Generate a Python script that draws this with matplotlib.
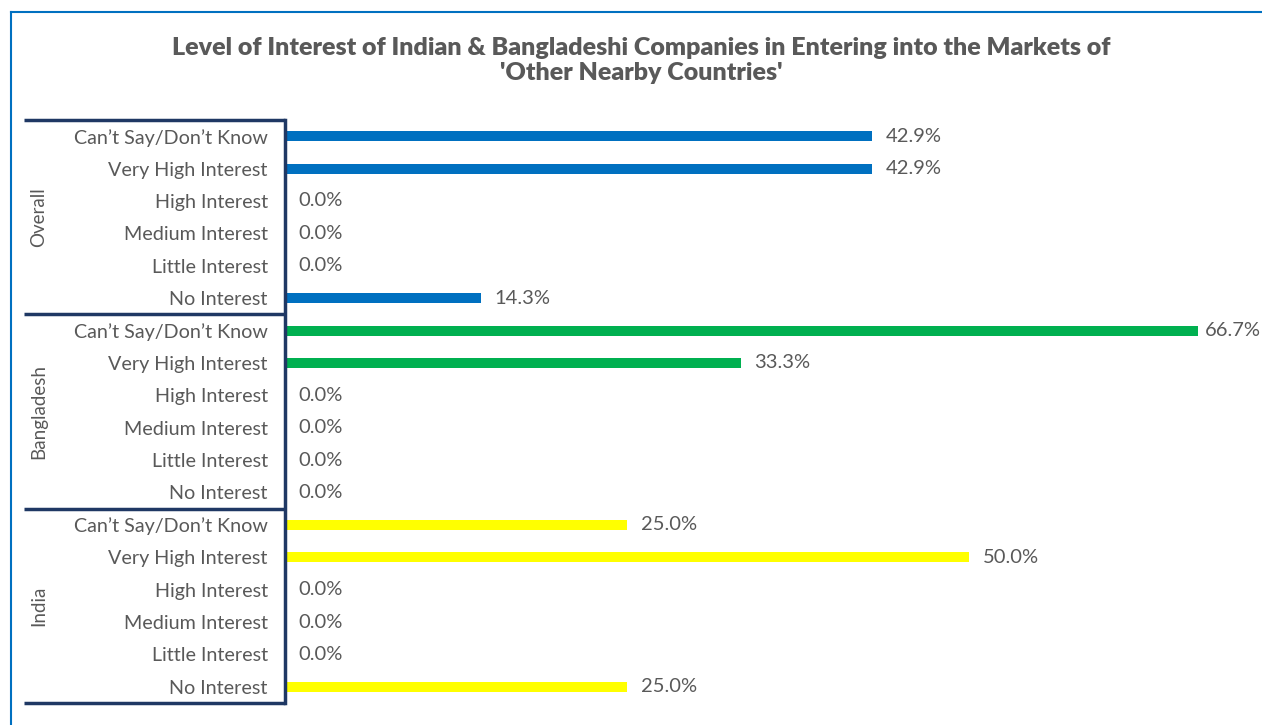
import matplotlib.pyplot as plt
from matplotlib.lines import Line2D

levels = ["Can\u2019t Say/Don\u2019t Know", "Very High Interest", "High Interest",
          "Medium Interest", "Little Interest", "No Interest"]
groups = ["Overall", "Bangladesh", "India"]
overall = [42.9, 42.9, 0.0, 0.0, 0.0, 14.3]
bangladesh = [66.7, 33.3, 0.0, 0.0, 0.0, 0.0]
india = [25.0, 50.0, 0.0, 0.0, 0.0, 25.0]
group_values = [overall, bangladesh, india]
group_colors = ["#0070C0", "#00B050", "#FFFF00"]

title = ("Level of Interest of Indian & Bangladeshi Companies in Entering into the Markets of\n"
         "'Other Nearby Countries'")

text_color = "#595959"
navy = "#1F3864"
plt.rcParams['font.family'] = ['Lato', 'DejaVu Sans']

W, H = 1262, 725
fig = plt.figure(figsize=(W / 100, H / 100), dpi=100)
fig.patch.set_facecolor("white")

# chart-area frame (top and left edges)
fig.add_artist(Line2D([11 / W, 1], [1 - 12 / H, 1 - 12 / H], color="#0070C0", lw=1.5))
fig.add_artist(Line2D([11 / W, 11 / W], [1 - 12 / H, 0], color="#0070C0", lw=1.5))

left, right, top, bottom = 285 / W, 1243 / W, 1 - 120 / H, 1 - 703 / H
ax = fig.add_axes([left, bottom, right - left, top - bottom])

n = len(levels)
ypos, vals, cols, labels = [], [], [], []
for g, (values, color) in enumerate(zip(group_values, group_colors)):
    for i, (lab, v) in enumerate(zip(levels, values)):
        ypos.append(g * n + i)
        vals.append(v)
        cols.append(color)
        labels.append(lab)

ax.barh(ypos, vals, height=0.31, color=cols)
# value labels sit just past the bar end, pulled in when they would run off the figure
label_max_x = 67.2
for y, v in zip(ypos, vals):
    ax.text(min(v + 1.0, label_max_x), y, f"{v:.1f}%", va="center", ha="left",
            fontsize=14.5, color=text_color)

ax.set_xlim(0, 70)
ax.set_ylim(len(ypos) - 0.5, -0.5)
ax.set_yticks(ypos)
ax.set_yticklabels(labels, fontsize=14.2, color=text_color)
ax.tick_params(axis="y", length=0, pad=12.5)
ax.set_xticks([])
for s in ["top", "right", "bottom"]:
    ax.spines[s].set_visible(False)
ax.spines["left"].set_color(navy)
ax.spines["left"].set_linewidth(2.5)

# group brackets and rotated group names
trans = ax.get_yaxis_transform()
x0 = (24 - 285) / (1243 - 285)
for k in range(len(groups) + 1):
    yb = k * n - 0.5
    ax.add_line(Line2D([x0, 0], [yb, yb], transform=trans, color=navy,
                       lw=2.5, clip_on=False, solid_capstyle="butt"))
for g, name in enumerate(groups):
    xc = (39 - 285) / (1243 - 285)
    ax.text(xc, g * n + (n - 1) / 2, name, transform=trans, rotation=90,
            ha="center", va="center", fontsize=13.5, color=text_color)

fig.text(641 / W, 1 - 60.5 / H, title, ha="center", va="center", fontsize=18,
         fontweight="heavy", color=text_color, linespacing=1.22)

fig.savefig("out.png", dpi=100)
